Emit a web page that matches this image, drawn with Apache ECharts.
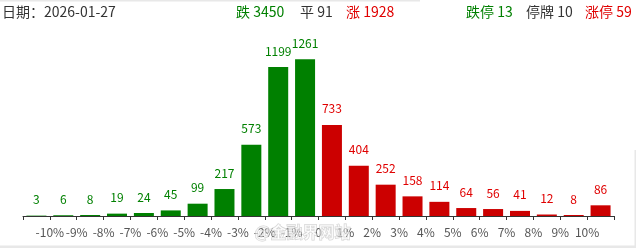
<!DOCTYPE html>
<html>
<head>
<meta charset="utf-8">
<script src="https://cdn.jsdelivr.net/npm/echarts@6/dist/echarts.min.js"></script>
<style>
  html, body { margin: 0; padding: 0; background: #fff; }
  #chart { width: 636px; height: 248px; }
</style>
</head>
<body>
<div id="chart"></div>
<script>
// Distribution of daily price changes (stock counts per 1% bucket)
const bucketCounts = [3, 6, 8, 19, 24, 45, 99, 217, 573, 1199, 1261,
                      733, 404, 252, 158, 114, 64, 56, 41, 12, 8, 86];
// Labels sit on the bucket boundaries
const boundaryLabels = ['-10%', '-9%', '-8%', '-7%', '-6%', '-5%', '-4%', '-3%', '-2%', '-1%', '0',
                        '1%', '2%', '3%', '4%', '5%', '6%', '7%', '8%', '9%', '10%'];
const tradeDate = '2026-01-27';
const summary = [
  { name: '跌', value: 3450, kind: 'down' },
  { name: '平', value: 91, kind: 'flat' },
  { name: '涨', value: 1928, kind: 'up' },
  { name: '跌停', value: 13, kind: 'down' },
  { name: '停牌', value: 10, kind: 'flat' },
  { name: '涨停', value: 59, kind: 'up' }
];
const downBucketCount = 11;

const FONT = '"Microsoft YaHei", "Noto Sans CJK SC", sans-serif';
const GREEN = '#008000';
const RED = '#cc0000';
const RED_TEXT = '#e00000';
const kindColor = { down: GREEN, flat: '#333', up: RED_TEXT };
const summaryX = [236, 300, 346, 466, 526, 585];

const chart = echarts.init(document.getElementById('chart'), null, { renderer: 'canvas' });

const barData = bucketCounts.map((v, i) => ({
  value: [i + 0.5, v],
  itemStyle: { color: i < downBucketCount ? GREEN : RED },
  label: { color: i < downBucketCount ? GREEN : RED_TEXT }
}));

const headerTexts = [{
  type: 'text', left: 2, top: 5,
  style: { text: '日期：' + tradeDate, fill: '#333', font: '14px ' + FONT }
}].concat(summary.map((s, i) => ({
  type: 'text', left: summaryX[i], top: 5,
  style: { text: s.name + ' ' + s.value, fill: kindColor[s.kind], font: '14px ' + FONT }
})));

chart.setOption({
  animation: false,
  textStyle: { fontFamily: FONT },
  grid: { left: 23, right: 22, top: 42, bottom: 32 },
  xAxis: {
    type: 'value', min: 0, max: bucketCounts.length, interval: 1,
    splitLine: { show: false },
    axisLine: { show: true, lineStyle: { color: '#333', width: 1 } },
    axisTick: { show: true, length: 4, lineStyle: { color: '#333' } },
    axisLabel: {
      color: '#555', fontSize: 12, margin: 10, showMinLabel: true, showMaxLabel: true,
      formatter: v => (v >= 1 && v <= boundaryLabels.length) ? boundaryLabels[v - 1] : ''
    }
  },
  yAxis: {
    type: 'value', min: 0, max: 1400, show: false
  },
  series: [{
    type: 'bar',
    barWidth: 20,
    data: barData,
    label: { show: true, position: 'top', distance: 10, fontSize: 12, fontFamily: FONT }
  }],
  graphic: headerTexts.concat([
    { type: 'rect', shape: { x: 0, y: 0, width: 420, height: 1.5 }, style: { fill: '#e8e8e8' }, silent: true },
    { type: 'rect', shape: { x: 0, y: 245.5, width: 636, height: 2.5 }, style: { fill: '#e8e8e8' }, silent: true },
    { type: 'rect', shape: { x: 634.5, y: 150, width: 1.5, height: 98 }, style: { fill: '#e8e8e8' }, silent: true },
    {
      type: 'text', left: 254, top: 223, z: 100,
      style: {
        text: '@金融界网站', font: 'bold 16px ' + FONT,
        fill: 'rgba(255,255,255,0.55)', stroke: 'rgba(150,150,150,0.45)', lineWidth: 1
      },
      silent: true
    }
  ])
});
</script>
</body>
</html>
